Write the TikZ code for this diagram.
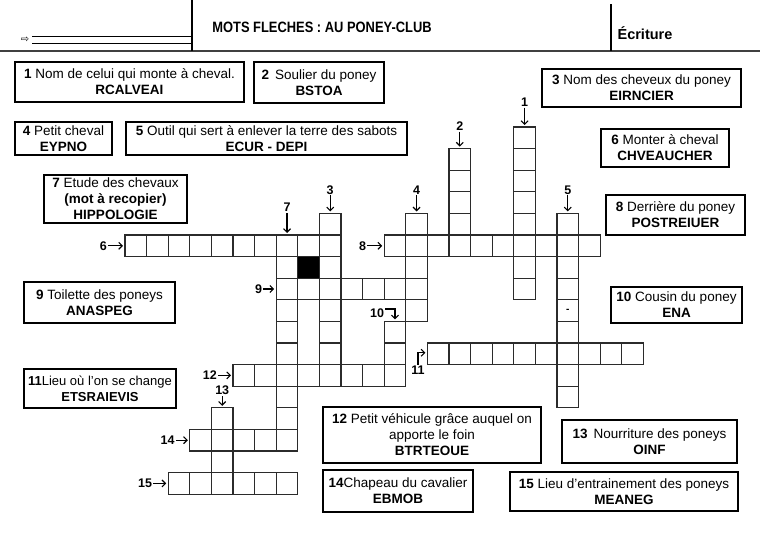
\documentclass[tikz,border=0pt]{standalone}
\usepackage{fontspec}
\setmainfont{Liberation Sans}
\newfontfamily\titlefont[FakeStretch=0.86]{Liberation Sans}
\newfontfamily\symfont{DejaVu Sans}
\usetikzlibrary{arrows.meta, positioning}
\definecolor{gridline}{HTML}{2B2B2B}

\begin{document}
\begin{tikzpicture}[
    x=1pt, y=-1pt,
    every node/.style={font=\fontsize{13.5}{16}\selectfont},
    clue/.style={
        rectangle,
        draw=black,
        line width=1.6pt,
        align=center,
        inner sep=1pt
    },
    num/.style={
        font=\fontsize{12.5}{14}\selectfont\bfseries,
        inner sep=1pt
    },
    pointer/.style={
        -{Straight Barb[length=3.5pt,width=7pt]},
        line width=1.1pt,
        shorten >=2pt
    },
    cellbox/.style={
        draw=gridline,
        line width=1.3pt
    }
]
\useasboundingbox (0,0) rectangle (760,538);

% Header
\draw[line width=1.8pt, black!75] (0,51) -- (760,51);
\draw[line width=1.1pt] (192,0) -- (192,51);
\draw[line width=1.1pt] (611,4) -- (611,51);
\draw[line width=0.7pt] (32,36) -- (192,36) (32,43.5) -- (192,43.5);
\node[font=\symfont\fontsize{10}{10}\selectfont] (hand) at (25,40) {⇨};
\node[font=\titlefont\fontsize{15}{16}\selectfont\bfseries] (title) at (322,27) {MOTS FLECHES : AU PONEY-CLUB};
\node[font=\fontsize{14.5}{16}\selectfont\bfseries] (subject) at (645,33) {Écriture};

% Clues
\node[clue, minimum width=229pt, minimum height=40pt] (clue1) at (129.5,82) {\textbf{1} Nom de celui qui monte à cheval.\\\textbf{RCALVEAI}};
\node[clue, minimum width=130pt, minimum height=41pt] (clue2) at (319,82.5) {\textbf{2}\, Soulier du poney\\\textbf{BSTOA}};
\node[clue, minimum width=199pt, minimum height=38pt] (clue3) at (641.5,88) {\textbf{3} Nom des cheveux du poney\\\textbf{EIRNCIER}};
\node[clue, minimum width=97pt, minimum height=33pt] (clue4) at (63.5,138.5) {\textbf{4} Petit cheval\\\textbf{EYPNO}};
\node[clue, minimum width=281pt, minimum height=33pt] (clue5) at (266.5,138.5) {\textbf{5} Outil qui sert à enlever la terre des sabots\\\textbf{ECUR - DEPI}};
\node[clue, minimum width=128pt, minimum height=38pt] (clue6) at (665,148) {\textbf{6} Monter à cheval\\\textbf{CHVEAUCHER}};
\node[clue, minimum width=143pt, minimum height=48pt] (clue7) at (115.5,199) {\textbf{7} Etude des chevaux\\\textbf{(mot à recopier)}\\\textbf{HIPPOLOGIE}};
\node[clue, minimum width=139pt, minimum height=40pt] (clue8) at (675.5,215) {\textbf{8} Derrière du poney\\\textbf{POSTREIUER}};
\node[clue, minimum width=151pt, minimum height=41pt] (clue9) at (99.5,302.5) {\textbf{9} Toilette des poneys\\\textbf{ANASPEG}};
\node[clue, minimum width=131pt, minimum height=36pt] (clue10) at (676.5,305) {\textbf{10} Cousin du poney\\\textbf{ENA}};
\node[clue, minimum width=152pt, minimum height=39pt, font=\fontsize{13}{16}\selectfont] (clue11) at (100,388.5) {\textbf{11}Lieu où l’on se change\\\textbf{ETSRAIEVIS}};
\node[clue, minimum width=218pt, minimum height=56pt] (clue12) at (432,435) {\textbf{12} Petit véhicule grâce auquel on\\apporte le foin\\\textbf{BTRTEOUE}};
\node[clue, minimum width=175pt, minimum height=43pt] (clue13) at (649.5,441.5) {\textbf{13}\, Nourriture des poneys\\\textbf{OINF}};
\node[clue, minimum width=150pt, minimum height=42pt] (clue14) at (398,491) {\textbf{14}Chapeau du cavalier\\\textbf{EBMOB}};
\node[clue, minimum width=228pt, minimum height=39pt] (clue15) at (624,491.5) {\textbf{15} Lieu d’entrainement des poneys\\\textbf{MEANEG}};

% Grid
\begin{scope}[shift={(125,235)}, x=21.6pt, y=-21.6pt]
  \fill[black] (8,1) rectangle ++(1,1);
  % across
  \foreach \c in {0,...,9} \draw[cellbox] (\c,0) rectangle ++(1,1);
  \foreach \c in {12,...,21} \draw[cellbox] (\c,0) rectangle ++(1,1);
  \foreach \c in {7,...,13} \draw[cellbox] (\c,2) rectangle ++(1,1);
  \foreach \c in {14,...,23} \draw[cellbox] (\c,5) rectangle ++(1,1);
  \foreach \c in {5,...,12} \draw[cellbox] (\c,6) rectangle ++(1,1);
  \foreach \c in {3,...,7} \draw[cellbox] (\c,9) rectangle ++(1,1);
  \foreach \c in {2,...,7} \draw[cellbox] (\c,11) rectangle ++(1,1);
  % down
  \foreach \r in {-5,...,2} \draw[cellbox] (18,\r) rectangle ++(1,1);
  \foreach \r in {-4,...,0} \draw[cellbox] (15,\r) rectangle ++(1,1);
  \foreach \r in {-1,...,6} \draw[cellbox] (9,\r) rectangle ++(1,1);
  \foreach \r in {-1,...,3} \draw[cellbox] (13,\r) rectangle ++(1,1);
  \foreach \r in {-1,...,7} \draw[cellbox] (20,\r) rectangle ++(1,1);
  \foreach \r in {0,...,9} \draw[cellbox] (7,\r) rectangle ++(1,1);
  \foreach \r in {4,...,6} \draw[cellbox] (12,\r) rectangle ++(1,1);
  \foreach \r in {8,...,11} \draw[cellbox] (4,\r) rectangle ++(1,1);
  \draw[cellbox] (8,1) rectangle ++(1,1);
  \node[font=\bfseries] (dash) at (20.5,3.5) {-};
  % arrow ends
  \coordinate (e1) at (18.5,-5);
  \coordinate (e2) at (15.5,-4);
  \coordinate (e3) at (9.5,-1);
  \coordinate (e4) at (13.5,-1);
  \coordinate (e5) at (20.5,-1);
  \coordinate (e6) at (0,0.5);
  \coordinate (e7) at (7.5,0);
  \coordinate (e8) at (12,0.5);
  \coordinate (e9) at (7,2.5);
  \coordinate (e10) at (12.5,4);
  \coordinate (e11) at (14,5.45);
  \coordinate (e12) at (5,6.5);
  \coordinate (e13) at (4.5,8);
  \coordinate (e14) at (3,9.5);
  \coordinate (e15) at (2,11.5);
\end{scope}

% Word numbers
\node[num, above=19.5pt of e1] (n1) {1};
\node[num, above=17pt of e2] (n2) {2};
\node[num, above=18pt of e3] (n3) {3};
\node[num, above=18pt of e4] (n4) {4};
\node[num, above=18pt of e5] (n5) {5};
\node[num, left=17pt of e6] (n6) {6};
\node[num, above=22pt of e7] (n7) {7};
\node[num, left=17pt of e8] (n8) {8};
\node[num, left=13pt of e9] (n9) {9};
\node[num] (n10) at (377,313) {10};
\node[num] (n11) at (418,370) {11};
\node[num, left=15pt of e12] (n12) {12};
\node[num, above=11.5pt of e13] (n13) {13};
\node[num, left=14pt of e14] (n14) {14};
\node[num, left=15pt of e15] (n15) {15};

% Arrows
\foreach \k in {1,2,3,4,5,6,7,8,9,12,13,14,15}
  \draw[pointer] (n\k) -- (e\k);
\draw[pointer] ([yshift=4pt]n10.east) -| (e10);
\draw[pointer] (n11.north) |- (e11);

\end{tikzpicture}
\end{document}
